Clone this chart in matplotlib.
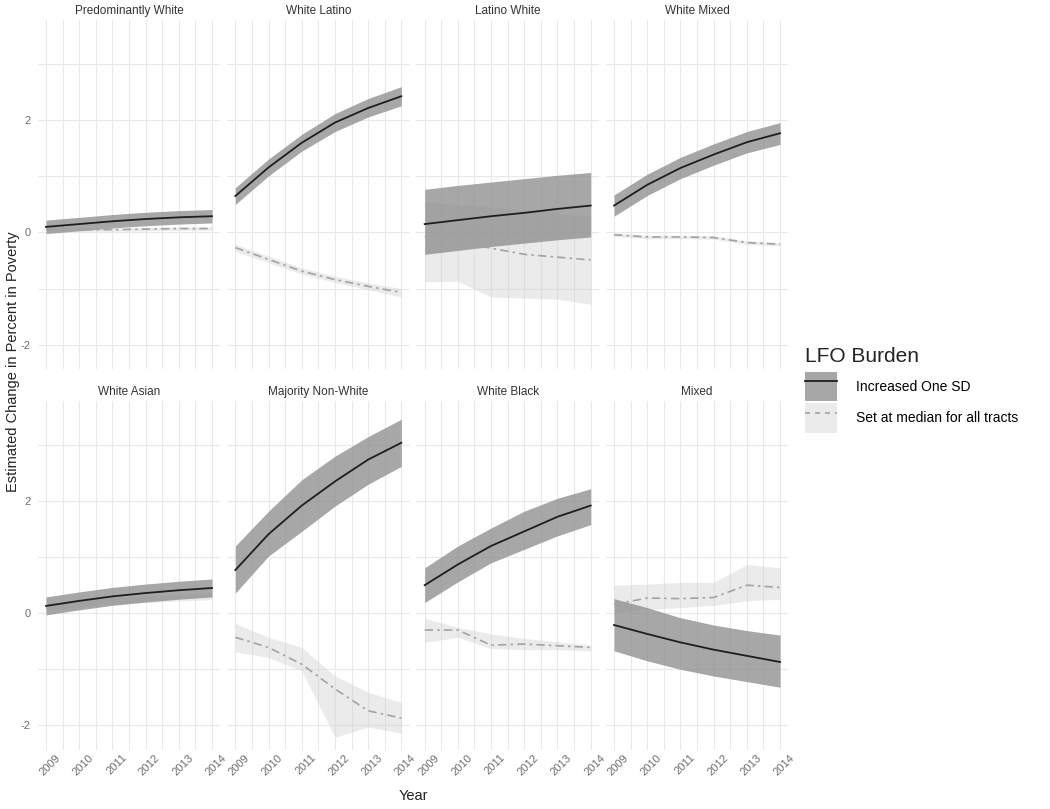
import matplotlib
matplotlib.use("Agg")
import matplotlib.pyplot as plt
import matplotlib.transforms as mtransforms
from matplotlib.patches import Patch
from matplotlib.lines import Line2D
from matplotlib.ticker import MultipleLocator

plt.rcParams['font.family'] = ['Liberation Sans', 'DejaVu Sans']
plt.rcParams['axes.unicode_minus'] = False

years = [2009, 2010, 2011, 2012, 2013, 2014]
panels = ["Predominantly White", "White Latino", "Latino White", "White Mixed",
          "White Asian", "Majority Non-White", "White Black", "Mixed"]

# LFO burden increased one SD: fit and ribbon
sd_fit = {
    "Predominantly White": [0.10, 0.15, 0.20, 0.24, 0.27, 0.29],
    "White Latino": [0.65, 1.16, 1.60, 1.96, 2.22, 2.43],
    "Latino White": [0.15, 0.22, 0.29, 0.35, 0.42, 0.48],
    "White Mixed": [0.48, 0.85, 1.15, 1.39, 1.61, 1.77],
    "White Asian": [0.13, 0.22, 0.30, 0.36, 0.41, 0.45],
    "Majority Non-White": [0.77, 1.41, 1.92, 2.35, 2.74, 3.04],
    "White Black": [0.50, 0.87, 1.20, 1.46, 1.72, 1.92],
    "Mixed": [-0.21, -0.37, -0.52, -0.65, -0.76, -0.87],
}
sd_lo = {
    "Predominantly White": [-0.02, 0.03, 0.08, 0.12, 0.15, 0.17],
    "White Latino": [0.50, 1.01, 1.45, 1.80, 2.06, 2.26],
    "Latino White": [-0.39, -0.32, -0.25, -0.19, -0.13, -0.08],
    "White Mixed": [0.29, 0.66, 0.96, 1.20, 1.42, 1.57],
    "White Asian": [-0.03, 0.06, 0.14, 0.20, 0.25, 0.29],
    "Majority Non-White": [0.36, 1.02, 1.46, 1.91, 2.30, 2.62],
    "White Black": [0.19, 0.56, 0.90, 1.14, 1.38, 1.58],
    "Mixed": [-0.67, -0.85, -1.00, -1.12, -1.22, -1.32],
}
sd_hi = {
    "Predominantly White": [0.22, 0.27, 0.32, 0.36, 0.39, 0.41],
    "White Latino": [0.80, 1.31, 1.75, 2.12, 2.39, 2.60],
    "Latino White": [0.77, 0.84, 0.90, 0.96, 1.02, 1.07],
    "White Mixed": [0.67, 1.04, 1.34, 1.58, 1.80, 1.96],
    "White Asian": [0.29, 0.38, 0.46, 0.52, 0.57, 0.61],
    "Majority Non-White": [1.20, 1.82, 2.38, 2.80, 3.15, 3.46],
    "White Black": [0.81, 1.20, 1.52, 1.82, 2.05, 2.22],
    "Mixed": [0.26, 0.10, -0.08, -0.21, -0.31, -0.39],
}

# LFO burden set at median for all tracts: fit and ribbon
med_fit = {
    "Predominantly White": [0.06, 0.05, 0.05, 0.06, 0.07, 0.07],
    "White Latino": [-0.27, -0.48, -0.69, -0.84, -0.96, -1.07],
    "Latino White": [-0.07, -0.18, -0.28, -0.39, -0.44, -0.49],
    "White Mixed": [-0.04, -0.08, -0.08, -0.09, -0.18, -0.21],
    "White Asian": [0.10, 0.17, 0.22, 0.25, 0.28, 0.30],
    "Majority Non-White": [-0.43, -0.61, -0.91, -1.35, -1.74, -1.87],
    "White Black": [-0.30, -0.30, -0.57, -0.55, -0.58, -0.61],
    "Mixed": [0.16, 0.27, 0.26, 0.28, 0.50, 0.46],
}
med_lo = {
    "Predominantly White": [0.03, 0.02, 0.02, 0.03, 0.04, 0.04],
    "White Latino": [-0.34, -0.54, -0.74, -0.89, -1.02, -1.15],
    "Latino White": [-0.88, -0.87, -1.15, -1.17, -1.19, -1.28],
    "White Mixed": [-0.07, -0.11, -0.11, -0.12, -0.21, -0.24],
    "White Asian": [0.04, 0.11, 0.16, 0.19, 0.22, 0.24],
    "Majority Non-White": [-0.69, -0.79, -1.03, -2.21, -2.03, -2.14],
    "White Black": [-0.52, -0.43, -0.63, -0.65, -0.65, -0.67],
    "Mixed": [0.01, 0.07, 0.10, 0.14, 0.22, 0.25],
}
med_hi = {
    "Predominantly White": [0.09, 0.08, 0.08, 0.09, 0.10, 0.10],
    "White Latino": [-0.21, -0.42, -0.63, -0.78, -0.90, -1.00],
    "Latino White": [0.55, 0.50, 0.45, 0.40, 0.35, 0.30],
    "White Mixed": [-0.01, -0.05, -0.05, -0.06, -0.15, -0.18],
    "White Asian": [0.16, 0.23, 0.28, 0.31, 0.34, 0.36],
    "Majority Non-White": [-0.18, -0.43, -0.61, -1.12, -1.41, -1.59],
    "White Black": [-0.09, -0.25, -0.37, -0.45, -0.51, -0.57],
    "Mixed": [0.50, 0.52, 0.55, 0.55, 0.87, 0.81],
}

legend_labels = ["Increased One SD", "Set at median for all tracts"]

DARK_FILL = '#8a8a8a'
LIGHT_FILL = '#c8c8c8'
DASH_COL = '#a3a3a3'
LINE_COL = '#1e1e1e'
GRID_COL = '#e9e9e9'
TICK_COL = '#6e6e6e'
dash_style = (0, (5, 2.5, 1.5, 2.5))

fig, axes = plt.subplots(2, 4, figsize=(10.5, 8.09), dpi=100, sharex=True, sharey=True)
fig.subplots_adjust(left=0.0359, right=0.7508, top=0.9753, bottom=0.0729,
                    wspace=0.037, hspace=0.09)

for ax, name in zip(axes.flat, panels):
    ax.fill_between(years, med_lo[name], med_hi[name], color=LIGHT_FILL, alpha=0.35, lw=0)
    ax.plot(years, med_fit[name], color=DASH_COL, lw=1.2, linestyle=dash_style)
    ax.fill_between(years, sd_lo[name], sd_hi[name], color=DARK_FILL, alpha=0.75, lw=0)
    ax.plot(years, sd_fit[name], color=LINE_COL, lw=1.3)

    ax.set_xlim(2008.75, 2014.25)
    ax.set_ylim(-2.44, 3.79)
    ax.xaxis.set_major_locator(MultipleLocator(1))
    ax.xaxis.set_minor_locator(MultipleLocator(0.5))
    ax.yaxis.set_major_locator(MultipleLocator(2))
    ax.yaxis.set_minor_locator(MultipleLocator(1))
    ax.grid(True, which='both', color=GRID_COL, lw=0.8)
    ax.set_axisbelow(True)
    for s in ax.spines.values():
        s.set_visible(False)
    ax.tick_params(which='both', length=0, colors=TICK_COL, labelsize=8)
    ax.tick_params(axis='y', pad=5)
    ax.tick_params(axis='x', pad=2)
    ax.set_title(name, fontsize=8.5, color='#333333', pad=4)

for ax in axes[1]:
    offset = mtransforms.ScaledTranslation(4 / 100, 0, fig.dpi_scale_trans)
    for lab in ax.get_xticklabels():
        lab.set_rotation(45)
        lab.set_ha('center')
        lab.set_va('top')
        lab.set_transform(lab.get_transform() + offset)

fig.text(413 / 1050, 1 - 796 / 809, "Year", ha='center', va='center', fontsize=10.5, color='#222222')
fig.text(13 / 1050, 1 - 362 / 809, "Estimated Change in Percent in Poverty", rotation=90,
         ha='center', va='center', fontsize=10.5, color='#222222')

handles = [
    (Patch(facecolor=DARK_FILL, alpha=0.75, lw=0), Line2D([], [], color=LINE_COL, lw=1.3)),
    (Patch(facecolor=LIGHT_FILL, alpha=0.35, lw=0), Line2D([], [], color=DASH_COL, lw=1.2, linestyle=(0, (3, 3)))),
]
leg = fig.legend(handles, legend_labels, loc='center left', bbox_to_anchor=(805 / 1050, 1 - 390 / 809),
                 frameon=False, fontsize=10, title="LFO Burden", title_fontsize=15,
                 handlelength=2.3, handleheight=2.9, labelspacing=0.12, handletextpad=1.4,
                 borderpad=0, borderaxespad=0)
leg._legend_box.align = "left"
leg._legend_box.sep = 4
leg.get_title().set_color('#222222')

fig.savefig("out.png", dpi=100)
